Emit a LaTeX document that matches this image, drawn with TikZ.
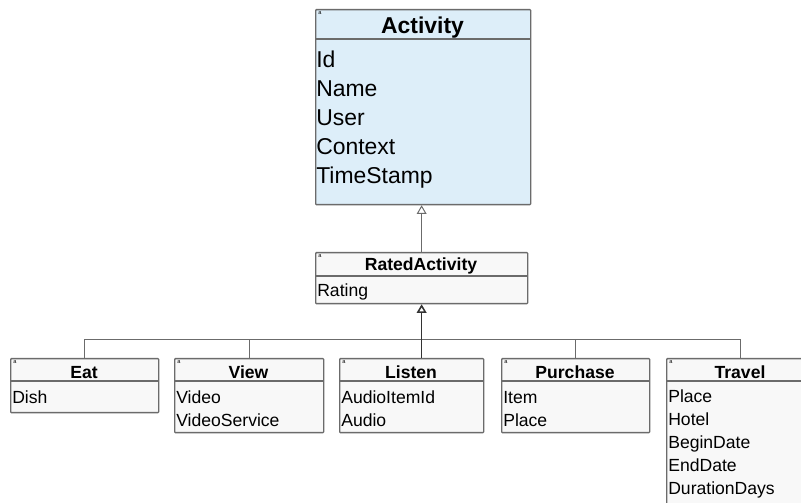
\documentclass[tikz,border=0pt]{standalone}
\usepackage{fontspec}
\setmainfont{Liberation Sans}
\usetikzlibrary{arrows.meta}
\definecolor{actblue}{HTML}{DDEEF9}
\definecolor{classgray}{HTML}{F8F8F8}
\colorlet{edgegray}{black!58}

\begin{document}
\begin{tikzpicture}[x=0.025cm,y=-0.025cm]
\tikzset{
  ClassBox/.style={draw=edgegray, line width=0.9pt, fill=classgray, anchor=north west,
    inner sep=0, rounded corners=0.6pt},
  ClassName/.style={font=\fontsize{12.5}{15}\selectfont\bfseries, anchor=base, inner sep=0},
  AttrText/.style={font=\fontsize{12.5}{15}\selectfont, anchor=base west, inner sep=0},
  BigText/.style={font=\fontsize{16.3}{19}\selectfont},
  BigName/.style={font=\fontsize{16.3}{19}\selectfont\bfseries},
  Stereo/.style={font=\fontsize{4}{4}\selectfont, anchor=north west, inner sep=0},
  SepLine/.style={draw=edgegray, line width=0.9pt},
  ConnLine/.style={draw=edgegray, line width=0.7pt},
  GenEdge/.style={draw=edgegray, line width=0.7pt, -{Triangle[open, length=6.2pt, width=7pt]}}
}
\clip (0,0) rectangle (801,503);

% Activity
\node[ClassBox, fill=actblue, minimum width=215*0.025cm, minimum height=195*0.025cm] (act) at (315,9) {};
\node[Stereo] (actS) at (318,11) {a};
\node[ClassName, BigName] (actT) at (422.5,34) {Activity};
\draw[SepLine] (act.north west) ++(0,30) -- ++(215,0);
\foreach \a [count=\i from 0] in {Id,Name,User,Context,TimeStamp}
  \node[AttrText, BigText] (act-\i) at (316,68+29*\i) {\a};

% RatedActivity
\node[ClassBox, minimum width=212*0.025cm, minimum height=51*0.025cm] (rated) at (315,252) {};
\node[Stereo] (ratedS) at (318,254) {a};
\node[ClassName] (ratedT) at (421,270.5) {RatedActivity};
\draw[SepLine] (rated.north west) ++(0,24) -- ++(212,0);
\node[AttrText] (rated-0) at (317,296.5) {Rating};

% subclasses
\node[ClassBox, minimum width=148*0.025cm, minimum height=54*0.025cm] (eat) at (10,358) {};
\node[Stereo] (eatS) at (13,360) {a};
\node[ClassName] (eatT) at (84,379) {Eat};
\draw[SepLine] (eat.north west) ++(0,23) -- ++(148,0);
\node[AttrText] (eat-0) at (12,403.5) {Dish};

\node[ClassBox, minimum width=149*0.025cm, minimum height=74*0.025cm] (view) at (174,358) {};
\node[Stereo] (viewS) at (177,360) {a};
\node[ClassName] (viewT) at (248.5,379) {View};
\draw[SepLine] (view.north west) ++(0,23) -- ++(149,0);
\foreach \a [count=\i from 0] in {Video,VideoService}
  \node[AttrText] (view-\i) at (176,403.5+23*\i) {\a};

\node[ClassBox, minimum width=144*0.025cm, minimum height=74*0.025cm] (listen) at (339,358) {};
\node[Stereo] (listenS) at (342,360) {a};
\node[ClassName] (listenT) at (411,379) {Listen};
\draw[SepLine] (listen.north west) ++(0,23) -- ++(144,0);
\foreach \a [count=\i from 0] in {AudioItemId,Audio}
  \node[AttrText] (listen-\i) at (341,403.5+23*\i) {\a};

\node[ClassBox, minimum width=148*0.025cm, minimum height=74*0.025cm] (purchase) at (501,358) {};
\node[Stereo] (purchaseS) at (504,360) {a};
\node[ClassName] (purchaseT) at (575,379) {Purchase};
\draw[SepLine] (purchase.north west) ++(0,23) -- ++(148,0);
\foreach \a [count=\i from 0] in {Item,Place}
  \node[AttrText] (purchase-\i) at (503,403.5+23*\i) {\a};

\node[ClassBox, minimum width=148*0.025cm, minimum height=160*0.025cm] (travel) at (666,358) {};
\node[Stereo] (travelS) at (669,360) {a};
\node[ClassName] (travelT) at (740,379) {Travel};
\draw[SepLine] (travel.north west) ++(0,23) -- ++(148,0);
\foreach \a [count=\i from 0] in {Place,Hotel,BeginDate,EndDate,DurationDays}
  \node[AttrText] (travel-\i) at (668,402.5+23*\i) {\a};

% generalisations
\draw[GenEdge] (rated.north) -- (rated.north |- act.south);
\path (rated.south) ++(0,35) coordinate (bus);
\foreach \c in {eat,view,purchase,travel}
  \draw[ConnLine] (\c.north) |- (bus);
\draw[GenEdge, draw=black!80, line width=1.1pt] (bus |- listen.north) -- (rated.south);
\end{tikzpicture}
\end{document}
